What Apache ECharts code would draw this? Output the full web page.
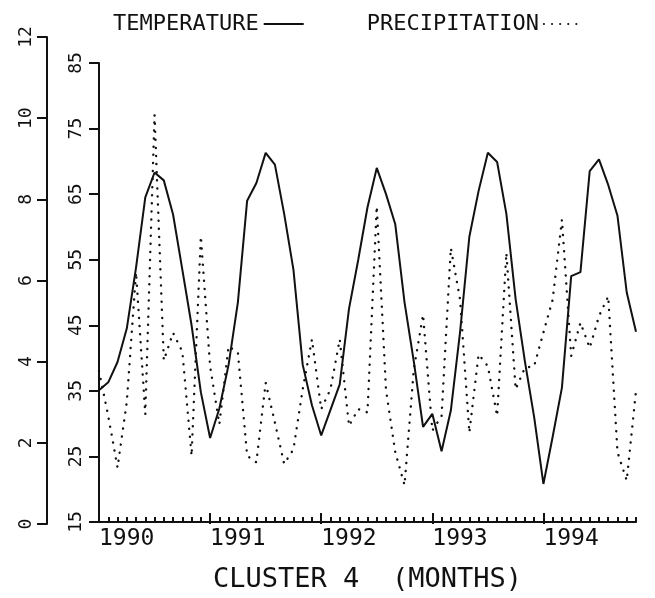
<!DOCTYPE html>
<html><head><meta charset="utf-8">
<script src="https://cdn.jsdelivr.net/npm/echarts@6/dist/echarts.min.js"></script>
<style>html,body{margin:0;padding:0;background:#fff}#c{width:655px;height:598px}</style>
</head><body><div id="c"></div>
<script>
// month index (0 = first month shown, labelled 1990)
const months = [0,1,2,3,4,5,6,7,8,9,10,11,12,13,14,15,16,17,18,19,20,21,22,23,24,25,26,27,28,29,
  30,31,32,33,34,35,36,37,38,39,40,41,42,43,44,45,46,47,48,49,50,51,52,53,54,55,56,57,58];
const yearLabels = ['1990','1991','1992','1993','1994'];
const yearLabelMonths = [0,12,24,36,48];
const temperature = [35.1,36.3,39.4,44.5,53.8,64.5,68.3,67.1,61.9,53.5,45.0,34.8,
  27.8,32.3,39.0,48.5,64.0,66.7,71.3,69.5,62.0,53.5,39.0,32.8,
  28.2,32.1,36.0,47.5,55.0,63.0,69.0,65.0,60.4,48.5,39.5,29.5,
  31.5,25.8,32.0,44.0,58.5,65.5,71.3,69.9,62.0,49.0,39.5,31.0,
  20.8,28.0,35.5,52.5,53.1,68.5,70.3,66.4,61.7,50.0,44.0];
const precipitation = [3.77,2.66,1.39,3.0,6.2,2.70,10.08,4.03,4.71,4.25,1.68,7.09,
  3.89,2.46,4.38,4.22,1.68,1.52,3.48,2.50,1.48,1.84,3.32,4.55,
  2.83,3.32,4.55,2.42,2.83,2.75,7.83,3.3,1.77,0.96,3.81,5.16,
  2.30,2.66,6.80,5.53,2.25,4.18,3.89,2.66,6.68,3.32,3.85,3.89,
  4.72,5.53,7.50,4.14,4.96,4.34,5.12,5.61,1.77,1.07,3.28];
const tempTicks = [15,25,35,45,55,65,75,85];
const precipTicks = [0,2,4,6,8,10,12];

const MONO = '"DejaVu Sans Mono","Liberation Mono",monospace';
const INK = '#111';
const chart = echarts.init(document.getElementById('c'), null, {renderer:'canvas'});
chart.setOption({
  animation:false,
  backgroundColor:'#fff',
  legend:{
    data:['TEMPERATURE','PRECIPITATION'],
    left:108, top:8, align:'right', itemWidth:40, itemHeight:14, itemGap:62,
    itemStyle:{opacity:0},
    textStyle:{fontFamily:MONO, fontSize:22, color:INK}
  },
  grid:[
    {left:99, right:19, top:37, bottom:74},
    {left:99, right:19, top:63, bottom:74}
  ],
  xAxis:[
    {gridIndex:0, type:'category', data:months, boundaryGap:false,
     axisLine:{show:false}, axisLabel:{show:false}, splitLine:{show:false},
     axisTick:{show:true, inside:true, length:11, interval:(i)=>yearLabelMonths.indexOf(i)>0,
       lineStyle:{color:INK, width:2}}},
    {gridIndex:1, type:'category', data:months, boundaryGap:false,
     axisLine:{lineStyle:{color:INK, width:2}},
     axisTick:{inside:true, length:5, interval:0, lineStyle:{color:INK, width:2}},
     axisLabel:{interval:(i)=>yearLabelMonths.indexOf(i)>=0,
       formatter:(v,i)=>yearLabels[yearLabelMonths.indexOf(Number(v))] || '',
       align:'left', margin:6, fontFamily:MONO, fontSize:23, color:INK},
     name:'CLUSTER 4  (MONTHS)', nameLocation:'middle', nameGap:44,
     nameTextStyle:{fontFamily:MONO, fontSize:27, color:INK}}
  ],
  yAxis:[
    {gridIndex:0, type:'value', min:precipTicks[0], max:precipTicks[precipTicks.length-1], interval:2,
     position:'left', offset:52, splitLine:{show:false},
     axisLine:{show:true, lineStyle:{color:INK, width:2}},
     axisTick:{show:true, length:10, lineStyle:{color:INK, width:2}},
     axisLabel:{rotate:90, margin:12, fontFamily:MONO, fontSize:18, color:INK}},
    {gridIndex:1, type:'value', min:tempTicks[0], max:tempTicks[tempTicks.length-1], interval:10,
     position:'left', splitLine:{show:false},
     axisLine:{show:true, lineStyle:{color:INK, width:2}},
     axisTick:{show:true, length:10, lineStyle:{color:INK, width:2}},
     axisLabel:{rotate:90, margin:14, fontFamily:MONO, fontSize:18, color:INK}}
  ],
  series:[
    {name:'TEMPERATURE', type:'line', xAxisIndex:1, yAxisIndex:1, data:temperature,
     symbol:'none', lineStyle:{color:INK, width:2}, itemStyle:{color:INK}},
    {name:'PRECIPITATION', type:'line', xAxisIndex:0, yAxisIndex:0, data:precipitation,
     symbol:'none', lineStyle:{color:INK, width:2.4, type:[0.1,8], cap:'round'}, itemStyle:{color:INK}}
  ]
});
</script></body></html>
